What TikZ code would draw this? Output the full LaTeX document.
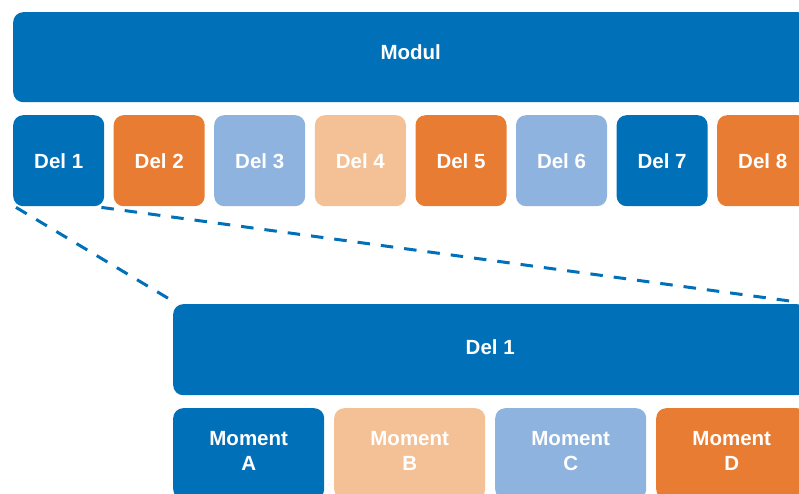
\documentclass[tikz,border=0pt]{standalone}
\usepackage{fontspec}
\setmainfont{Liberation Sans}
\usetikzlibrary{backgrounds}
\definecolor{dblue}{RGB}{0,112,185}
\definecolor{orng}{RGB}{232,124,50}
\definecolor{lblue}{RGB}{141,179,222}
\definecolor{lorng}{RGB}{244,193,151}
\newcommand{\lowpad}{\rule[-5pt]{0pt}{5pt}}
\tikzset{
  box/.style={rounded corners=10pt, anchor=north west, inner sep=0pt, text=white,
    font=\fontsize{20.5}{25}\selectfont\bfseries, align=center},
  smallbox/.style={box, minimum width=91pt, minimum height=91pt},
  momentbox/.style={box, minimum width=151pt, minimum height=91pt},
  link/.style={dblue, line width=3pt, dash pattern=on 12.5pt off 11pt}
}
\begin{document}
\begin{tikzpicture}[x=1pt,y=-1pt]
\useasboundingbox (0,0) rectangle (799,494);
\clip (0,0) rectangle (799,494);
\node[box, fill=dblue, minimum width=795pt, minimum height=90pt] (modul) at (13,12) {\raisebox{-2pt}[0pt][0pt]{Modul}};
\node[smallbox, fill=dblue] (d1) at (13,115) {Del 1};
\node[smallbox, fill=orng] (d2) at (113.5,115) {Del 2};
\node[smallbox, fill=lblue] (d3) at (214,115) {Del 3};
\node[smallbox, fill=lorng] (d4) at (314.7,115) {Del 4};
\node[smallbox, fill=orng] (d5) at (415.3,115) {Del 5};
\node[smallbox, fill=lblue] (d6) at (515.8,115) {Del 6};
\node[smallbox, fill=dblue] (d7) at (616.4,115) {Del 7};
\node[smallbox, fill=orng] (d8) at (717,115) {Del 8};
\node[box, fill=dblue, minimum width=634pt, minimum height=91pt] (big) at (173,304) {\raisebox{-4.8pt}[0pt][0pt]{Del 1}};
\node[momentbox, fill=dblue] (ma) at (173,408) {Moment\\A\lowpad};
\node[momentbox, fill=lorng] (mb) at (334,408) {Moment\\B\lowpad};
\node[momentbox, fill=lblue] (mc) at (495,408) {Moment\\C\lowpad};
\node[momentbox, fill=orng] (md) at (656,408) {Moment\\D\lowpad};
\begin{scope}[on background layer]
\draw[link] ([xshift=3pt,yshift=-1pt]d1.south west) -- ([xshift=3pt,yshift=1pt]big.north west);
\draw[link] ([xshift=-3pt,yshift=-1pt]d1.south east) -- ([xshift=-3pt,yshift=1pt]big.north east);
\end{scope}
\end{tikzpicture}
\end{document}
